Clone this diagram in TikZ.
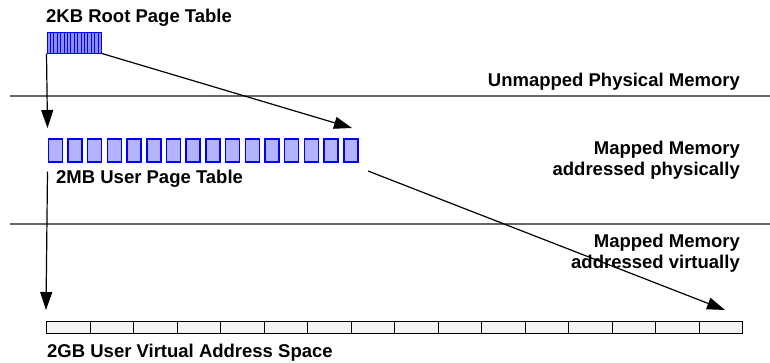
\documentclass[tikz,border=0pt]{standalone}
\usepackage{fontspec}
\setmainfont{Liberation Sans}
\usetikzlibrary{arrows.meta,calc}
\definecolor{ptfill}{HTML}{B3B3FF}
\definecolor{ptdraw}{HTML}{0000FF}
\definecolor{rootfill}{HTML}{8C8CFF}
\definecolor{sepgray}{HTML}{666666}
\definecolor{cellfill}{HTML}{F4F4F4}
\tikzset{
  lbl/.style={font=\fontsize{18.5}{20.5}\selectfont\bfseries, inner sep=0pt},
  sepline/.style={draw=sepgray, line width=1.3pt},
  ptbox/.style={draw=ptdraw, fill=ptfill, line width=1.5pt, minimum width=14pt, minimum height=23pt, inner sep=0pt, anchor=north west},
  rootcell/.style={draw=ptdraw, fill=rootfill, line width=1pt, minimum width=3.4pt, minimum height=21pt, inner sep=0pt, anchor=north west},
  vcell/.style={draw=black, fill=cellfill, line width=1pt, minimum width=43.5pt, minimum height=12pt, inner sep=0pt, anchor=north west},
  arr/.style={draw=black, line width=1.2pt, -{Triangle[length=18pt,width=12pt]}}
}
\begin{document}
\begin{tikzpicture}[x=1pt,y=-1pt]
\useasboundingbox (0,0) rectangle (770,362);
\fill[white] (0,0) rectangle (770,362);
% separators
\coordinate (s1a) at (10,96); \coordinate (s1b) at (770,96);
\coordinate (s2a) at (10,224); \coordinate (s2b) at (770,224);
\draw[sepline] (s1a) -- (s1b);
\draw[sepline] (s2a) -- (s2b);
% root page table
\foreach \i in {0,...,15}{
  \node[rootcell] (r\i) at ({46.5+\i*3.4},31.5) {};
}
\node[draw=ptdraw, line width=1pt, inner sep=0pt, minimum width=54.4pt, minimum height=21pt, anchor=north west] (root) at (46.5,31.5) {};
% user page table
\foreach \i in {1,...,16}{
  \node[ptbox] (u\i) at ({47.5+(\i-1)*19.7},138) {};
}
% virtual address space
\foreach \i in {1,...,16}{
  \node[vcell] (v\i) at ({46+(\i-1)*43.5},321) {};
}
% labels
\node[lbl, anchor=base west] (t1) at (46,22) {2KB Root Page Table};
\node[lbl, anchor=base east] (t2) at (740,86) {Unmapped Physical Memory};
\node[lbl, anchor=north east, align=right] (t3) at (740,141) {Mapped Memory\\addressed physically};
\node[lbl, anchor=base west] (t4) at (56,183) {2MB User Page Table};
\node[lbl, anchor=north east, align=right] (t5) at (740,234) {Mapped Memory\\addressed virtually};
\node[lbl, anchor=base west] (t6) at (47,357) {2GB User Virtual Address Space};
% arrows
\coordinate (a2e) at (352,128);
\coordinate (a4s) at (368,171);
\coordinate (a4e) at (725,310);
\draw[arr] (root.south west) -- ($(u1.north west)+(0,-10)$);
\draw[arr] (root.south east) -- (a2e);
\draw[arr] ($(u1.south west)+(0,9)$) -- ($(v1.north west)+(0,-11)$);
\draw[arr] (a4s) -- (a4e);
\end{tikzpicture}
\end{document}
